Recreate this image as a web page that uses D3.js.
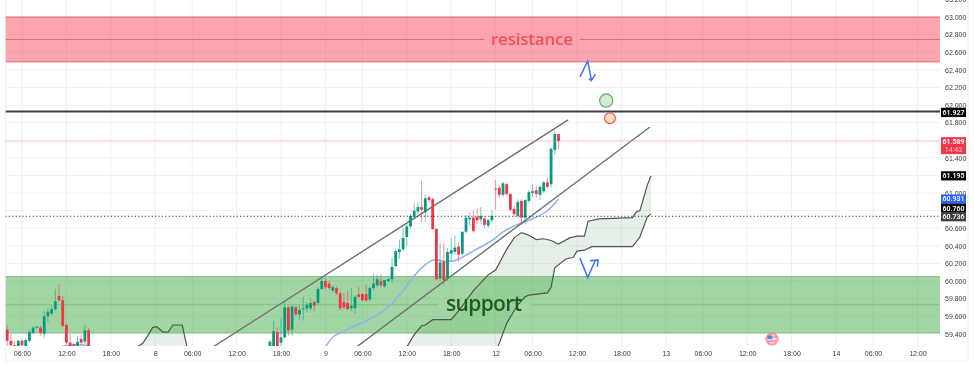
<!DOCTYPE html>
<html>
<head>
<meta charset="utf-8">
<script src="https://cdn.jsdelivr.net/npm/d3@7"></script>
<style>
  html, body { margin: 0; background: #fff; }
  svg { display: block; font-family: Roboto, sans-serif; filter: blur(0.55px); }
  .axis path, .axis line { display: none; }
  .axis text { fill: #3a3a3a; font-size: 7px; }
</style>
</head>
<body>
<svg id="chart"></svg>
<script>
const WIDTH = 974, HEIGHT = 366;
const PANE = {left: 5.5, right: 940, top: 0, bottom: 346};
const UP = '#089981', DOWN = '#f23645';

// bar number, open, high, low, close (30 min bars, bar 0 is the first 06:00 tick)
const earlyCandles = [
  [-4,59.45,59.50,59.25,59.32],[-3,59.32,59.40,59.25,59.27],[-2,59.27,59.32,59.24,59.25],[-1,59.26,59.33,59.24,59.32],
  [0,59.32,59.34,59.25,59.27],[1,59.26,59.35,59.25,59.33],[2,59.32,59.44,59.30,59.42],[3,59.41,59.49,59.40,59.47],
  [4,59.47,59.49,59.46,59.48],[5,59.47,59.49,59.38,59.41],[6,59.40,59.66,59.35,59.60],[7,59.60,59.69,59.53,59.65],
  [8,59.63,59.72,59.61,59.68],[9,59.68,59.91,59.66,59.77],[10,59.83,59.97,59.77,59.78],[11,59.78,59.83,59.48,59.49],
  [12,59.50,59.52,59.28,59.30],[13,59.30,59.40,59.24,59.26],[14,59.28,59.30,59.25,59.26],[15,59.26,59.38,59.25,59.31],
  [16,59.34,59.39,59.27,59.30],[17,59.31,59.50,59.28,59.44],[18,59.44,59.47,59.22,59.24]
];
const lateCandles = [
  [67,59.26,59.33,59.24,59.31],[68,59.26,59.55,59.24,59.43],[69,59.42,59.48,59.24,59.26],[70,59.30,59.57,59.25,59.36],
  [71,59.36,59.76,59.35,59.70],[72,59.70,59.72,59.38,59.44],[73,59.45,59.72,59.38,59.71],[74,59.70,59.72,59.60,59.62],
  [75,59.62,59.72,59.56,59.67],[76,59.68,59.82,59.55,59.69],[77,59.69,59.76,59.64,59.73],[78,59.69,59.80,59.67,59.75],
  [79,59.76,59.78,59.65,59.72],[80,59.75,59.93,59.73,59.91],[81,59.91,60.04,59.90,60.00],[82,60.00,60.03,59.90,59.93],
  [83,59.97,60.00,59.90,59.92],[84,59.89,59.95,59.87,59.93],[85,59.92,59.94,59.84,59.86],[86,59.86,59.88,59.67,59.69],
  [87,59.76,59.86,59.68,59.70],[88,59.75,59.89,59.67,59.68],[89,59.69,59.92,59.66,59.72],[90,59.69,59.84,59.63,59.82],
  [91,59.85,59.93,59.81,59.82],[92,59.85,59.87,59.77,59.78],[93,59.85,59.96,59.76,59.78],[94,59.79,59.94,59.77,59.92],
  [95,59.92,60.08,59.90,59.97],[96,59.95,60.07,59.93,60.02],[97,60.00,60.08,59.93,59.95],[98,59.94,60.00,59.92,60.01],
  [99,60.00,60.04,59.98,60.02],[100,60.02,60.26,59.98,60.16],[101,60.17,60.36,60.16,60.34],[102,60.33,60.47,60.25,60.36],
  [103,60.36,60.60,60.34,60.49],[104,60.50,60.64,60.40,60.62],[105,60.62,60.76,60.60,60.74],[106,60.73,60.89,60.70,60.80],
  [107,60.79,60.89,60.76,60.84],[108,60.84,61.14,60.67,60.81],[109,60.78,60.98,60.67,60.94],[110,60.95,60.97,60.90,60.92],
  [111,60.93,60.95,60.58,60.59],[112,60.59,60.60,60.01,60.02],[113,60.03,60.43,60.00,60.21],[114,60.22,60.43,59.95,60.01],
  [115,60.03,60.37,60.00,60.33],[116,60.31,60.49,60.23,60.35],[117,60.33,60.52,60.30,60.38],[118,60.39,60.44,60.22,60.30],
  [119,60.31,60.56,60.29,60.56],[120,60.56,60.75,60.54,60.72],[121,60.70,60.78,60.62,60.72],[122,60.72,60.80,60.55,60.57],
  [123,60.73,60.82,60.65,60.69],[124,60.70,60.84,60.65,60.74],[125,60.71,60.74,60.60,60.64],[126,60.63,60.71,60.60,60.69],
  [127,60.69,60.80,60.67,60.74],[128,61.05,61.15,60.81,61.04],[129,61.06,61.08,60.95,60.98],[130,60.98,61.13,60.96,61.11],
  [131,61.10,61.12,60.97,60.99],[132,60.99,61.00,60.79,60.81],[133,60.82,60.85,60.72,60.76],[134,60.74,60.93,60.72,60.90],
  [135,60.91,60.93,60.64,60.72],[136,60.72,60.93,60.64,60.92],[137,60.91,61.03,60.88,61.01],[138,61.00,61.10,60.95,61.02],
  [139,61.03,61.08,60.95,60.99],[140,60.98,61.09,60.92,61.07],[141,61.02,61.14,61.00,61.12],[142,61.12,61.17,61.05,61.07],
  [143,61.10,61.52,61.06,61.50],[144,61.49,61.70,61.43,61.67],[145,61.67,61.67,61.50,61.589]
];

// moving average
const maEarly = [[10,59.25],[12,59.27],[15,59.28],[18,59.27],[19,59.25]];
const maLate = [[82,59.25],[84,59.375],[86,59.41],[90,59.49],[94,59.56],[99,59.69],[102,59.83],[105,60.01],[108,60.16],
  [111,60.245],[112,60.245],[114,60.215],[118,60.23],[122,60.35],[127,60.445],[130,60.57],[133,60.625],[138,60.705],[142,60.78],[145,60.931]];

// cloud edges
const cloudHump = [[31,59.25],[32.6,59.29],[34,59.38],[35.3,59.47],[36.4,59.48],[38.1,59.42],[39.5,59.42],[40.8,59.50],[43.3,59.50],[44.6,59.25]];
const cloudUpper = [[104,59.25],[106,59.39],[108,59.49],[109,59.50],[111,59.56],[114,59.56],[116,59.56],[118,59.66],[122,59.89],[126,60.07],
  [128,60.125],[131,60.36],[133,60.49],[135,60.55],[137,60.52],[139,60.47],[141,60.48],[143,60.46],[145,60.42],[148,60.49],[150,60.51],
  [152,60.51],[153,60.68],[156,60.705],[165,60.72],[166,60.785],[167,60.80],[169,61.09],[170,61.195]];
const cloudLower = [[128.6,59.25],[131,59.52],[134,59.73],[136,59.82],[137,59.84],[142,59.865],[143,59.93],[144,60.15],[147,60.25],
  [149,60.27],[150,60.34],[152,60.35],[154,60.39],[165,60.39],[167,60.50],[169,60.73],[170,60.76]];

// drawn objects
const channelUpper = [[51.6,59.25],[147.6,61.83]];
const channelLower = [[90.4,59.25],[169.7,61.75]];
const arrowUpA = [[150.8,62.32],[152.9,62.50],[153.9,62.28],[155,62.35]];
const arrowUpB = [[153.2,62.30],[153.9,62.28]];
const arrowDownA = [[150.8,60.26],[152.9,60.04],[154.9,60.23]];
const arrowDownB = [[153.5,60.23],[155.7,60.24],[155.5,60.16]];
const markerGreen = [157.9,62.05];
const markerRed = [158.9,61.85];
const flagMarker = [202.7,59.34];

const resistance = {top: 63.0, mid: 62.745, bottom: 62.49, label: 'resistance'};
const support = {top: 60.05, mid: 59.73, bottom: 59.41, label: 'support'};
const blackLevel = 61.927, lastPrice = 61.589, dottedLevel = 60.736;

const priceTicks = [63.2,63,62.8,62.6,62.4,62.2,62,61.8,61.6,61.4,61.2,61,60.8,60.6,60.4,60.2,60,59.8,59.6,59.4];
const priceLabels = [63.2,63,62.8,62.6,62.4,62.2,62,61.8,61.4,61,60.6,60.4,60.2,60,59.8,59.6,59.4];
const timeTicks = [0,12,24,36,46,58,70,82,92,104,116,128,138,150,162,174,184,196,208,220,230,242];
const timeLabels = ['06:00','12:00','18:00','8','06:00','12:00','18:00','9','06:00','12:00','18:00','12','06:00','12:00','18:00','13','06:00','12:00','18:00','14','06:00','12:00'];

const tagValues = ['61.927','61.589','61.195','60.931','60.760','60.736'];
const tagColors = ['#000','#f23645','#000','#2962ff','#0d0d0d','#3f3f3f'];
const tagShift = [1,4.5,0,0,-6,0.5];

const x = d3.scaleLinear().domain([0, 242]).range([22, 917.4]);
const y = d3.scaleLinear().domain([59.4, 63]).range([333.8, 17]);

const svg = d3.select('#chart').attr('width', WIDTH).attr('height', HEIGHT);
svg.append('defs').append('clipPath').attr('id', 'pane').append('rect')
  .attr('x', PANE.left).attr('y', PANE.top)
  .attr('width', PANE.right - PANE.left).attr('height', PANE.bottom - PANE.top);

// frame
svg.append('path').attr('fill', 'none').attr('stroke', '#f0f0f0')
  .attr('d', `M${PANE.left},0V361H968V0`);

// grid
svg.append('g').selectAll('line').data(priceTicks).enter().append('line')
  .attr('x1', PANE.left).attr('x2', PANE.right)
  .attr('y1', d => y(d)).attr('y2', d => y(d))
  .attr('stroke', '#eff0f2');
svg.append('g').selectAll('line').data(timeTicks).enter().append('line')
  .attr('x1', d => x(d)).attr('x2', d => x(d))
  .attr('y1', PANE.top).attr('y2', PANE.bottom)
  .attr('stroke', '#eff0f2');

const pane = svg.append('g').attr('clip-path', 'url(#pane)');
const line = d3.line().x(d => x(d[0])).y(d => y(d[1]));

// cloud fill
pane.append('path').attr('fill', 'rgba(76,150,80,0.14)')
  .attr('d', line(cloudHump) + 'Z');
pane.append('path').attr('fill', 'rgba(76,150,80,0.14)')
  .attr('d', line(cloudUpper.concat(cloudLower.slice().reverse())) + 'Z');

// zones
function zone(z, fill, edge, gapLeft, gapRight) {
  pane.append('rect')
    .attr('x', PANE.left).attr('width', PANE.right - PANE.left)
    .attr('y', y(z.top)).attr('height', y(z.bottom) - y(z.top))
    .attr('fill', fill);
  for (const v of [z.top, z.bottom]) {
    pane.append('line').attr('x1', PANE.left).attr('x2', PANE.right)
      .attr('y1', y(v)).attr('y2', y(v)).attr('stroke', edge);
  }
  for (const seg of [[PANE.left, gapLeft], [gapRight, PANE.right]]) {
    pane.append('line').attr('x1', seg[0]).attr('x2', seg[1])
      .attr('y1', y(z.mid)).attr('y2', y(z.mid)).attr('stroke', edge);
  }
}
zone(resistance, 'rgba(247,82,100,0.52)', '#dc6b7b', 484, 580);
zone(support, 'rgba(76,175,80,0.52)', '#7cc07e', 438, 530);

// cloud edges
for (const edge of [cloudHump, cloudUpper, cloudLower]) {
  pane.append('path').attr('fill', 'none').attr('stroke', '#4f574f').attr('stroke-width', 1.2)
    .attr('d', line(edge));
}

// moving average
for (const ma of [maEarly, maLate]) {
  pane.append('path').attr('fill', 'none').attr('stroke', '#8fb0f8').attr('stroke-width', 1.5)
    .attr('d', line.curve(d3.curveBasis)(ma));
}
line.curve(d3.curveLinear);

// channel
for (const c of [channelUpper, channelLower]) {
  pane.append('path').attr('fill', 'none').attr('stroke', '#6f6f6f').attr('stroke-width', 1.4)
    .attr('d', line(c));
}

// candles
const candles = earlyCandles.concat(lateCandles);
const bars = pane.append('g').selectAll('g').data(candles).enter().append('g');
bars.append('line')
  .attr('x1', d => x(d[0])).attr('x2', d => x(d[0]))
  .attr('y1', d => y(d[2])).attr('y2', d => y(d[3]))
  .attr('stroke', d => d[4] >= d[1] ? UP : DOWN)
  .attr('stroke-opacity', 0.55);
bars.append('rect')
  .attr('x', d => x(d[0]) - 1.4).attr('width', 2.8)
  .attr('y', d => y(Math.max(d[1], d[4])))
  .attr('height', d => Math.max(1, Math.abs(y(d[1]) - y(d[4]))))
  .attr('fill', d => d[4] >= d[1] ? UP : DOWN);

// levels
pane.append('line').attr('x1', PANE.left).attr('x2', PANE.right)
  .attr('y1', y(blackLevel)).attr('y2', y(blackLevel))
  .attr('stroke', '#404040').attr('stroke-width', 2);
pane.append('line').attr('x1', PANE.left).attr('x2', PANE.right)
  .attr('y1', y(lastPrice)).attr('y2', y(lastPrice))
  .attr('stroke', '#f79aa4').attr('stroke-dasharray', '1 1');
pane.append('line').attr('x1', PANE.left).attr('x2', PANE.right)
  .attr('y1', y(dottedLevel)).attr('y2', y(dottedLevel))
  .attr('stroke', '#333').attr('stroke-width', 1.2).attr('stroke-dasharray', '1.2 2.2');

// hand drawn arrows
for (const a of [arrowUpA, arrowUpB, arrowDownA, arrowDownB]) {
  pane.append('path').attr('fill', 'none').attr('stroke', '#3f74ee').attr('stroke-width', 1.5)
    .attr('d', line(a));
}

// markers
pane.append('circle').attr('cx', x(markerGreen[0])).attr('cy', y(markerGreen[1])).attr('r', 6.6)
  .attr('fill', '#d5ead6').attr('stroke', '#5fb864').attr('stroke-width', 1.3);
pane.append('circle').attr('cx', x(markerRed[0])).attr('cy', y(markerRed[1])).attr('r', 5.4)
  .attr('fill', '#ffe0b8').attr('stroke', '#f2565e').attr('stroke-width', 1.3);

// zone labels
pane.append('text').text(resistance.label)
  .attr('x', 532).attr('y', y(resistance.mid)).attr('dy', '0.33em')
  .attr('text-anchor', 'middle').attr('font-size', 17).attr('font-family', 'Open Sans')
  .attr('font-weight', 600).attr('textLength', 82).attr('fill', '#f2505f');
pane.append('text').text(support.label)
  .attr('x', 484).attr('y', y(support.mid)).attr('dy', '0.3em')
  .attr('text-anchor', 'middle').attr('font-size', 21).attr('font-family', 'Open Sans')
  .attr('font-weight', 600).attr('textLength', 76).attr('fill', '#1b5e20');

// news flag
const flag = svg.append('g').attr('transform', `translate(${x(flagMarker[0])},${y(flagMarker[1])})`);
flag.append('circle').attr('r', 5.6).attr('fill', '#ffd9dc').attr('stroke', '#fb8f99').attr('stroke-width', 1.8);
flag.append('rect').attr('x', -4.5).attr('y', -3.6).attr('width', 4.8).attr('height', 3.6).attr('fill', '#3d8bf0');
flag.append('rect').attr('x', 0.3).attr('y', -2.6).attr('width', 4.2).attr('height', 1).attr('fill', '#f7777f');
flag.append('rect').attr('x', -4).attr('y', 1.4).attr('width', 8).attr('height', 1.2).attr('fill', '#f7777f');

// axes
svg.append('g').attr('class', 'axis')
  .attr('transform', `translate(${PANE.right + 2},0)`)
  .call(d3.axisRight(y).tickValues(priceLabels).tickFormat(d3.format('.3f')).tickSize(0).tickPadding(3));
svg.append('g').attr('class', 'axis')
  .attr('transform', 'translate(0,351)')
  .call(d3.axisBottom(x).tickValues(timeTicks).tickFormat((d, i) => timeLabels[i]).tickSize(0).tickPadding(0));

// price tags
const tags = svg.append('g').selectAll('g').data(tagValues).enter().append('g')
  .attr('transform', (d, i) => `translate(${PANE.right + 1},${y(+d) + tagShift[i]})`);
tags.append('rect')
  .attr('x', 0).attr('width', 25)
  .attr('y', (d, i) => i == 1 ? -8.5 : -4.6)
  .attr('height', (d, i) => i == 1 ? 17 : 9.2)
  .attr('fill', (d, i) => tagColors[i]);
tags.append('text').text(d => d)
  .attr('x', 12.5).attr('text-anchor', 'middle')
  .attr('y', (d, i) => i == 1 ? -2 : 2.4)
  .attr('font-size', 7).attr('font-weight', 600).attr('fill', '#fff');
svg.append('text').text('14:43')
  .attr('x', PANE.right + 13.5).attr('y', y(lastPrice) + tagShift[1] + 6)
  .attr('text-anchor', 'middle').attr('font-size', 7).attr('fill', '#fbd0d4');
</script>
</body>
</html>
